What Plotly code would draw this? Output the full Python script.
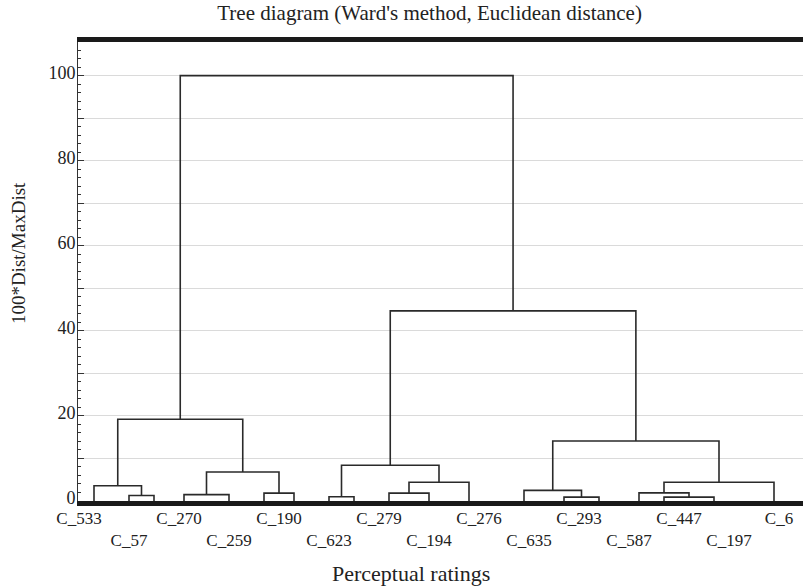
import plotly.graph_objects as go

# ---- data ----
# number of cases in each terminal group (in dendrogram order)
group_sizes = [4, 3, 2, 4, 5, 2, 4, 3, 2, 5, 3, 5, 6, 2, 5, 3, 2, 8, 4]
# merges: node ids (groups are 0..18, each merge creates the next id)
merge_left = [1, 0, 3, 5, 21, 20, 7, 9, 26, 25, 13, 12, 16, 15, 32, 30, 28, 24]
merge_right = [2, 19, 4, 6, 22, 23, 8, 10, 11, 27, 14, 29, 17, 31, 18, 33, 34, 35]
merge_height = [1.3, 3.6, 1.5, 1.85, 6.8, 19.2, 1.0, 1.85, 4.4, 8.4,
                0.9, 2.5, 0.9, 1.9, 4.4, 14.1, 44.7, 100.0]
tick_cases = [0, 5, 10, 15, 20, 25, 30, 35, 40, 45, 50, 55, 60, 65, 70]
tick_labels = ["C_533", "C_57", "C_270", "C_259", "C_190", "C_623", "C_279",
               "C_194", "C_276", "C_635", "C_293", "C_587", "C_447", "C_197", "C_6"]

# ---- compute dendrogram geometry from the tree ----
node_x = []
node_h = []
start = 0
for s in group_sizes:
    node_x.append(start + (s - 1) / 2.0)
    node_h.append(0.0)
    start += s

xs, ys = [], []
for a, b, h in zip(merge_left, merge_right, merge_height):
    xa, xb = node_x[a], node_x[b]
    xs += [xa, xa, xb, xb, None]
    ys += [node_h[a], h, h, node_h[b], None]
    node_x.append((xa + xb) / 2.0)
    node_h.append(h)

FONT = "Liberation Serif"
TXT = "#222222"
XR = [-0.1, 72.4]

fig = go.Figure()
fig.add_trace(go.Scatter(x=xs, y=ys, mode="lines",
                         line=dict(color="#2a2a2a", width=1.6),
                         hoverinfo="skip", showlegend=False))
# invisible helper trace so that the second label row axis is drawn
fig.add_trace(go.Scatter(x=tick_cases[1::2], y=[50] * len(tick_cases[1::2]),
                         xaxis="x2", mode="markers", marker=dict(opacity=0),
                         hoverinfo="skip", showlegend=False))

fig.update_layout(
    width=803, height=586,
    margin=dict(l=78, r=0, t=42, b=85),
    paper_bgcolor="white", plot_bgcolor="white",
    font=dict(family=FONT, size=17, color=TXT),
    title=dict(text="Tree diagram (Ward's method, Euclidean distance)",
               x=0.535, xanchor="center", y=0.978, yanchor="middle",
               font=dict(family=FONT, size=21, color=TXT)),
    xaxis=dict(range=XR, tickvals=tick_cases[0::2], ticktext=tick_labels[0::2],
               showgrid=False, zeroline=False, ticks="",
               ticklabelstandoff=-2,
               showline=True, linewidth=5, linecolor="#1a1a1a", mirror=True,
               tickfont=dict(family=FONT, size=17, color=TXT)),
    xaxis2=dict(range=XR, overlaying="x", side="bottom", anchor="y",
                tickvals=tick_cases[1::2], ticktext=tick_labels[1::2],
                showgrid=False, zeroline=False, ticks="", showline=False,
                ticklabelstandoff=27,
                tickfont=dict(family=FONT, size=17, color=TXT)),
    yaxis=dict(range=[0, 107.9],
               tickvals=[0, 10, 20, 30, 40, 50, 60, 70, 80, 90, 100],
               ticktext=["0", "", "20", "", "40", "", "60", "", "80", "", "100"],
               showgrid=True, gridcolor="#dadada", gridwidth=1,
               zeroline=False, ticks="inside", ticklen=6, tickwidth=1,
               tickcolor="#333333", ticklabelstandoff=-2, ticklabelshift=-3,
               minor=dict(dtick=2, ticks="inside", ticklen=3, tickcolor="#333333",
                          showgrid=False),
               showline=True, linewidth=1, linecolor="#333333",
               tickfont=dict(family=FONT, size=18, color=TXT)),
    annotations=[
        dict(text="100*Dist/MaxDist", textangle=-90, xref="paper", yref="paper",
             x=-0.0828, y=0.540, xanchor="center", yanchor="middle",
             showarrow=False, font=dict(family=FONT, size=19, color=TXT)),
        dict(text="Perceptual ratings", xref="paper", yref="paper",
             x=0.459, y=-0.159, xanchor="center", yanchor="middle",
             showarrow=False, font=dict(family=FONT, size=22, color=TXT)),
    ],
)

fig.write_html("out.html", config={"displayModeBar": False},
               post_script="document.body.style.margin='0';")
